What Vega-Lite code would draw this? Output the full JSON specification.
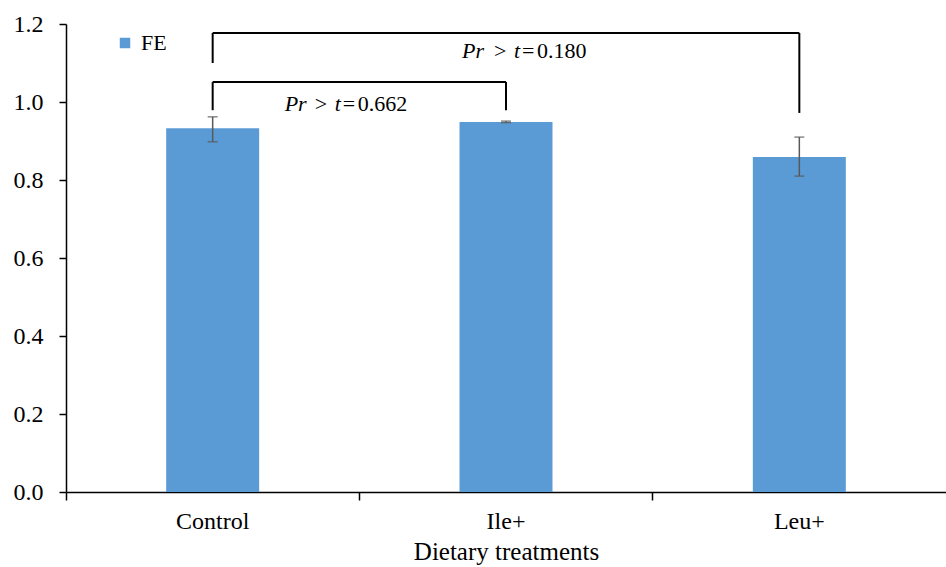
{
  "$schema": "https://vega.github.io/schema/vega-lite/v6.json",
  "width": 880,
  "height": 468,
  "autosize": {"type": "none"},
  "padding": {"left": 66, "top": 24, "right": 0, "bottom": 75},
  "background": "white",
  "config": {
    "view": {"stroke": null},
    "font": "Liberation Serif",
    "text": {"font": "Liberation Serif"},
    "legend": {"labelFont": "Liberation Serif"},
    "axis": {"grid": false, "domainColor": "black", "tickColor": "black", "labelColor": "black", "titleColor": "black", "labelFont": "Liberation Serif", "titleFont": "Liberation Serif", "labelFontSize": 24, "titleFontSize": 25, "titleFontWeight": "normal"}
  },
  "datasets": {
    "bars": [
      {"cat": "Control", "FE": 0.933, "lo": 0.898, "hi": 0.962, "series": "FE"},
      {"cat": "Ile+", "FE": 0.949, "lo": 0.947, "hi": 0.951, "series": "FE"},
      {"cat": "Leu+", "FE": 0.859, "lo": 0.810, "hi": 0.910, "series": "FE"}
    ],
    "hbr": [
      {"from": "Control", "to": "Leu+", "y": 1.177},
      {"from": "Control", "to": "Ile+", "y": 1.051}
    ],
    "vbr": [
      {"cat": "Control", "ya": 1.177, "yb": 1.100},
      {"cat": "Leu+", "ya": 1.177, "yb": 0.972},
      {"cat": "Control", "ya": 1.051, "yb": 0.979},
      {"cat": "Ile+", "ya": 1.051, "yb": 0.979}
    ],
    "up": [{"cat": "Ile+", "y": 1.114, "p1": "Pr", "p2": ">", "p3": "t", "p4": "=", "p5": "0.180"}],
    "low": [{"cat": "Control", "y": 0.976, "p1": "Pr", "p2": ">", "p3": "t", "p4": "=", "p5": "0.662"}]
  },
  "layer": [
    {
      "data": {"name": "bars"},
      "mark": {"type": "bar", "width": {"band": 0.317}},
      "encoding": {
        "x": {"field": "cat", "type": "nominal", "sort": ["Control", "Ile+", "Leu+"],
              "scale": {"paddingInner": 0, "paddingOuter": 0},
              "axis": {"title": "Dietary treatments", "labelAngle": 0, "bandPosition": 0, "tickSize": 8, "domainWidth": 1.5, "tickWidth": 1.5, "labelPadding": 9, "titlePadding": 6}},
        "y": {"field": "FE", "type": "quantitative", "scale": {"domain": [0, 1.2]},
              "axis": {"title": null, "values": [0, 0.2, 0.4, 0.6, 0.8, 1.0, 1.2], "format": ".1f", "tickSize": 7, "domainWidth": 1.5, "tickWidth": 1.5, "labelPadding": 16}},
        "color": {"field": "series", "type": "nominal", "scale": {"range": ["#5B9BD5"]},
                  "legend": {"title": null, "orient": "none", "legendX": 48, "legendY": 8, "symbolType": "square", "symbolSize": 110, "labelFontSize": 22, "labelColor": "black", "symbolStrokeWidth": 0, "padding": 0, "labelOffset": 5}}
      }
    },
    {
      "data": {"name": "bars"},
      "mark": {"type": "rule", "color": "#595959", "strokeWidth": 1.5},
      "encoding": {
        "x": {"field": "cat", "type": "nominal", "sort": ["Control", "Ile+", "Leu+"]},
        "y": {"field": "lo", "type": "quantitative"},
        "y2": {"field": "hi"}
      }
    },
    {
      "data": {"name": "bars"},
      "mark": {"type": "tick", "color": "#595959", "thickness": 1.5, "size": 10, "orient": "horizontal"},
      "encoding": {
        "x": {"field": "cat", "type": "nominal", "sort": ["Control", "Ile+", "Leu+"]},
        "y": {"field": "lo", "type": "quantitative"}
      }
    },
    {
      "data": {"name": "bars"},
      "mark": {"type": "tick", "color": "#595959", "thickness": 1.5, "size": 10, "orient": "horizontal"},
      "encoding": {
        "x": {"field": "cat", "type": "nominal", "sort": ["Control", "Ile+", "Leu+"]},
        "y": {"field": "hi", "type": "quantitative"}
      }
    },
    {
      "data": {"name": "hbr"},
      "mark": {"type": "rule", "color": "black", "strokeWidth": 2},
      "encoding": {
        "x": {"field": "from", "type": "nominal", "sort": ["Control", "Ile+", "Leu+"]},
        "x2": {"field": "to"},
        "y": {"field": "y", "type": "quantitative"}
      }
    },
    {
      "data": {"name": "vbr"},
      "mark": {"type": "rule", "color": "black", "strokeWidth": 2},
      "encoding": {
        "x": {"field": "cat", "type": "nominal", "sort": ["Control", "Ile+", "Leu+"]},
        "y": {"field": "ya", "type": "quantitative"},
        "y2": {"field": "yb"}
      }
    },
    {"data": {"name": "up"}, "mark": {"type": "text", "align": "left", "baseline": "alphabetic", "fontSize": 22, "fontStyle": "italic", "color": "black", "dx": -44},
     "encoding": {"x": {"field": "cat", "type": "nominal", "sort": ["Control", "Ile+", "Leu+"]}, "y": {"field": "y", "type": "quantitative"}, "text": {"field": "p1"}}},
    {"data": {"name": "up"}, "mark": {"type": "text", "align": "left", "baseline": "alphabetic", "fontSize": 22, "color": "black", "dx": -12},
     "encoding": {"x": {"field": "cat", "type": "nominal", "sort": ["Control", "Ile+", "Leu+"]}, "y": {"field": "y", "type": "quantitative"}, "text": {"field": "p2"}}},
    {"data": {"name": "up"}, "mark": {"type": "text", "align": "left", "baseline": "alphabetic", "fontSize": 22, "fontStyle": "italic", "color": "black", "dx": 8},
     "encoding": {"x": {"field": "cat", "type": "nominal", "sort": ["Control", "Ile+", "Leu+"]}, "y": {"field": "y", "type": "quantitative"}, "text": {"field": "p3"}}},
    {"data": {"name": "up"}, "mark": {"type": "text", "align": "left", "baseline": "alphabetic", "fontSize": 22, "color": "black", "dx": 16},
     "encoding": {"x": {"field": "cat", "type": "nominal", "sort": ["Control", "Ile+", "Leu+"]}, "y": {"field": "y", "type": "quantitative"}, "text": {"field": "p4"}}},
    {"data": {"name": "up"}, "mark": {"type": "text", "align": "left", "baseline": "alphabetic", "fontSize": 22, "color": "black", "dx": 31},
     "encoding": {"x": {"field": "cat", "type": "nominal", "sort": ["Control", "Ile+", "Leu+"]}, "y": {"field": "y", "type": "quantitative"}, "text": {"field": "p5"}}},
    {"data": {"name": "low"}, "mark": {"type": "text", "align": "left", "baseline": "alphabetic", "fontSize": 22, "fontStyle": "italic", "color": "black", "dx": 72},
     "encoding": {"x": {"field": "cat", "type": "nominal", "sort": ["Control", "Ile+", "Leu+"]}, "y": {"field": "y", "type": "quantitative"}, "text": {"field": "p1"}}},
    {"data": {"name": "low"}, "mark": {"type": "text", "align": "left", "baseline": "alphabetic", "fontSize": 22, "color": "black", "dx": 102},
     "encoding": {"x": {"field": "cat", "type": "nominal", "sort": ["Control", "Ile+", "Leu+"]}, "y": {"field": "y", "type": "quantitative"}, "text": {"field": "p2"}}},
    {"data": {"name": "low"}, "mark": {"type": "text", "align": "left", "baseline": "alphabetic", "fontSize": 22, "fontStyle": "italic", "color": "black", "dx": 122},
     "encoding": {"x": {"field": "cat", "type": "nominal", "sort": ["Control", "Ile+", "Leu+"]}, "y": {"field": "y", "type": "quantitative"}, "text": {"field": "p3"}}},
    {"data": {"name": "low"}, "mark": {"type": "text", "align": "left", "baseline": "alphabetic", "fontSize": 22, "color": "black", "dx": 130},
     "encoding": {"x": {"field": "cat", "type": "nominal", "sort": ["Control", "Ile+", "Leu+"]}, "y": {"field": "y", "type": "quantitative"}, "text": {"field": "p4"}}},
    {"data": {"name": "low"}, "mark": {"type": "text", "align": "left", "baseline": "alphabetic", "fontSize": 22, "color": "black", "dx": 145},
     "encoding": {"x": {"field": "cat", "type": "nominal", "sort": ["Control", "Ile+", "Leu+"]}, "y": {"field": "y", "type": "quantitative"}, "text": {"field": "p5"}}}
  ]
}
